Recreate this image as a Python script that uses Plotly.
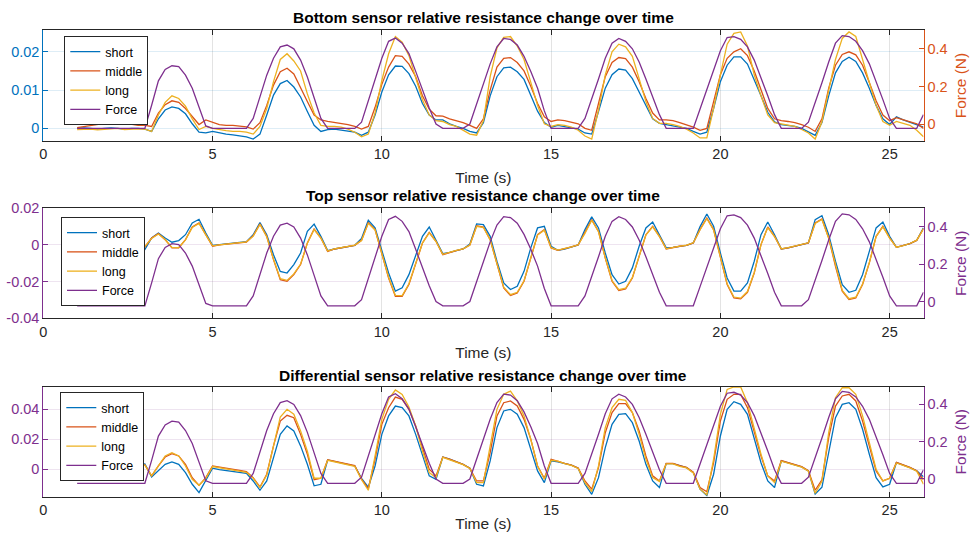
import plotly.graph_objects as go

# ---------------- data ----------------
TIME = [1.0, 1.2, 1.4, 1.6, 1.8, 2.0, 2.2, 2.4, 2.6, 2.8,
        3.0, 3.2, 3.4, 3.6, 3.8, 4.0, 4.2, 4.4, 4.6, 4.8,
        5.0, 5.2, 5.4, 5.6, 5.8, 6.0, 6.2, 6.4, 6.6, 6.8,
        7.0, 7.2, 7.4, 7.6, 7.8, 8.0, 8.2, 8.4, 8.6, 8.8,
        9.0, 9.2, 9.4, 9.6, 9.8, 10.0, 10.2, 10.4, 10.6, 10.8,
        11.0, 11.2, 11.4, 11.6, 11.8, 12.0, 12.2, 12.4, 12.6, 12.8,
        13.0, 13.2, 13.4, 13.6, 13.8, 14.0, 14.2, 14.4, 14.6, 14.8,
        15.0, 15.2, 15.4, 15.6, 15.8, 16.0, 16.2, 16.4, 16.6, 16.8,
        17.0, 17.2, 17.4, 17.6, 17.8, 18.0, 18.2, 18.4, 18.6, 18.8,
        19.0, 19.2, 19.4, 19.6, 19.8, 20.0, 20.2, 20.4, 20.6, 20.8,
        21.0, 21.2, 21.4, 21.6, 21.8, 22.0, 22.2, 22.4, 22.6, 22.8,
        23.0, 23.2, 23.4, 23.6, 23.8, 24.0, 24.2, 24.4, 24.6, 24.8,
        25.0, 25.2, 25.4, 25.6, 25.8, 26.0]

FORCE = [-0.023, -0.023, -0.023, -0.023, -0.023, -0.023, -0.023, -0.023, -0.023, -0.023,
         -0.023, 0.10, 0.23, 0.29, 0.31, 0.305, 0.26, 0.19, 0.09, -0.01,
         -0.023, -0.023, -0.023, -0.023, -0.023, -0.023, 0.03, 0.15, 0.26, 0.35,
         0.41, 0.42, 0.40, 0.34, 0.25, 0.14, 0.03, -0.023, -0.023, -0.023,
         -0.023, -0.023, 0.01, 0.12, 0.235, 0.35, 0.44, 0.457, 0.43, 0.375,
         0.28, 0.18, 0.085, 0.0, -0.023, -0.023, -0.023, -0.023, 0.0, 0.11,
         0.21, 0.32, 0.41, 0.455, 0.45, 0.42, 0.36, 0.28, 0.19, 0.07,
         -0.023, -0.023, -0.023, -0.023, -0.023, 0.03, 0.13, 0.24, 0.35, 0.43,
         0.455, 0.44, 0.40, 0.33, 0.24, 0.14, 0.05, -0.023, -0.023, -0.023,
         -0.023, -0.023, 0.08, 0.18, 0.29, 0.39, 0.46, 0.465, 0.45, 0.41,
         0.34, 0.25, 0.15, 0.05, -0.023, -0.023, -0.023, -0.023, 0.01, 0.11,
         0.22, 0.33, 0.43, 0.47, 0.465, 0.44, 0.39, 0.32, 0.23, 0.13,
         0.03, -0.023, -0.023, -0.023, -0.023, 0.05]

# Bottom sensor
B_SHORT = [0.0000, 0.0001, 0.0000, -0.0002, 0.0000, 0.0001, 0.0000, -0.0002, 0.0000, 0.0000,
           -0.0002, -0.0008, 0.0025, 0.0048, 0.0056, 0.0052, 0.0038, 0.0012, -0.0010, -0.0012,
           -0.0008, -0.0012, -0.0015, -0.0017, -0.0020, -0.0022, -0.0028, -0.0015, 0.0035, 0.0087,
           0.0117, 0.0125, 0.0108, 0.0082, 0.0044, 0.0008, -0.0008, -0.0003, -0.0002, -0.0005,
           -0.0007, -0.0010, -0.0018, -0.0010, 0.0035, 0.0095, 0.0140, 0.0163, 0.0162, 0.0143,
           0.0110, 0.0065, 0.0035, 0.0022, 0.0022, 0.0012, 0.0005, 0.0000, -0.0008, -0.0012,
           0.0015, 0.0085, 0.0135, 0.0158, 0.0160, 0.0148, 0.0128, 0.0085, 0.0045, 0.0015,
           0.0003, 0.0008, 0.0005, 0.0002, -0.0002, -0.0012, -0.0015, 0.0044, 0.0105, 0.0140,
           0.0155, 0.0152, 0.0130, 0.0095, 0.0060, 0.0025, 0.0013, 0.0010, 0.0008, 0.0005,
           0.0000, -0.0008, -0.0015, -0.0010, 0.0052, 0.0122, 0.0165, 0.0187, 0.0187, 0.0168,
           0.0128, 0.0085, 0.0042, 0.0017, 0.0010, 0.0008, 0.0005, 0.0000, -0.0008, -0.0018,
           0.0015, 0.0085, 0.0145, 0.0175, 0.0186, 0.0175, 0.0145, 0.0105, 0.0060, 0.0025,
           0.0010, 0.0030, 0.0022, 0.0015, 0.0010, 0.0003]
B_MIDDLE = [0.0002, 0.0005, 0.0008, 0.0010, 0.0012, 0.0015, 0.0018, 0.0014, 0.0010, 0.0008,
            0.0008, 0.0005, 0.0040, 0.0062, 0.0072, 0.0068, 0.0052, 0.0030, 0.0010, 0.0022,
            0.0015, 0.0010, 0.0008, 0.0008, 0.0006, 0.0004, -0.0002, 0.0015, 0.0060, 0.0113,
            0.0148, 0.0157, 0.0142, 0.0108, 0.0070, 0.0035, 0.0022, 0.0018, 0.0015, 0.0012,
            0.0010, 0.0005, -0.0002, 0.0005, 0.0055, 0.0115, 0.0160, 0.0190, 0.0188, 0.0168,
            0.0135, 0.0085, 0.0050, 0.0033, 0.0032, 0.0025, 0.0020, 0.0015, 0.0008, 0.0000,
            0.0025, 0.0100, 0.0160, 0.0183, 0.0185, 0.0172, 0.0150, 0.0110, 0.0065, 0.0030,
            0.0018, 0.0022, 0.0020, 0.0015, 0.0012, 0.0000, -0.0005, 0.0065, 0.0135, 0.0172,
            0.0185, 0.0182, 0.0160, 0.0122, 0.0078, 0.0040, 0.0022, 0.0022, 0.0020, 0.0015,
            0.0010, 0.0003, -0.0005, 0.0000, 0.0070, 0.0140, 0.0183, 0.0200, 0.0208, 0.0190,
            0.0150, 0.0098, 0.0052, 0.0025, 0.0020, 0.0018, 0.0015, 0.0010, 0.0003, -0.0008,
            0.0025, 0.0105, 0.0165, 0.0193, 0.0200, 0.0192, 0.0165, 0.0120, 0.0072, 0.0035,
            0.0020, 0.0028, 0.0022, 0.0018, 0.0012, 0.0000]
B_LONG = [-0.0003, -0.0003, -0.0002, -0.0004, -0.0003, -0.0002, 0.0000, -0.0003, -0.0002, -0.0001,
          -0.0002, -0.0008, 0.0035, 0.0068, 0.0085, 0.0078, 0.0058, 0.0025, -0.0003, 0.0005,
          0.0000, -0.0004, -0.0006, -0.0008, -0.0008, -0.0010, -0.0015, 0.0005, 0.0052, 0.0122,
          0.0180, 0.0195, 0.0176, 0.0150, 0.0090, 0.0040, 0.0008, 0.0005, 0.0005, 0.0003,
          -0.0002, -0.0010, -0.0022, -0.0015, 0.0040, 0.0125, 0.0195, 0.0240, 0.0225, 0.0190,
          0.0130, 0.0075, 0.0035, 0.0020, 0.0018, 0.0010, 0.0005, -0.0005, -0.0015, -0.0018,
          0.0020, 0.0135, 0.0210, 0.0238, 0.0240, 0.0215, 0.0180, 0.0120, 0.0060, 0.0012,
          0.0005, 0.0010, 0.0008, 0.0003, -0.0005, -0.0020, -0.0028, 0.0048, 0.0140, 0.0200,
          0.0220, 0.0213, 0.0188, 0.0130, 0.0070, 0.0026, 0.0013, 0.0013, 0.0010, 0.0005,
          -0.0002, -0.0012, -0.0025, -0.0025, 0.0052, 0.0140, 0.0220, 0.0248, 0.0252, 0.0215,
          0.0140, 0.0085, 0.0035, 0.0015, 0.0012, 0.0008, 0.0005, -0.0003, -0.0012, -0.0028,
          0.0017, 0.0100, 0.0180, 0.0235, 0.0252, 0.0240, 0.0180, 0.0120, 0.0060, 0.0018,
          0.0008, 0.0018, 0.0012, 0.0008, -0.0005, -0.0022]

# Top sensor
T_SHORT = [-0.0020, -0.0020, -0.0022, -0.0022, -0.0023, -0.0023, -0.0024, -0.0025, -0.0025, -0.0025,
           -0.0025, 0.0038, 0.0065, 0.0038, 0.0015, 0.0024, 0.0056, 0.0120, 0.0140, 0.0065,
           -0.0002, 0.0002, 0.0006, 0.0010, 0.0014, 0.0018, 0.0056, 0.0122, 0.0056, -0.0053,
           -0.0144, -0.0153, -0.0107, -0.0044, 0.0074, 0.0114, 0.0047, -0.0031, -0.0022, -0.0016,
           -0.0007, -0.0002, 0.0035, 0.0135, 0.0093, -0.0035, -0.0153, -0.0252, -0.0234, -0.0162,
           -0.0062, 0.0047, 0.0098, 0.0029, -0.0047, -0.0040, -0.0031, -0.0022, 0.0005, 0.0115,
           0.0111, 0.0047, -0.0089, -0.0207, -0.0243, -0.0225, -0.0144, -0.0016, 0.0093, 0.0102,
           -0.0007, -0.0029, -0.0022, -0.0011, 0.0000, 0.0084, 0.0153, 0.0093, -0.0044, -0.0162,
           -0.0213, -0.0198, -0.0125, -0.0007, 0.0093, 0.0125, 0.0056, -0.0016, -0.0013, -0.0007,
           -0.0002, 0.0011, 0.0100, 0.0169, 0.0102, -0.0044, -0.0180, -0.0252, -0.0252, -0.0207,
           -0.0089, 0.0056, 0.0125, 0.0056, -0.0022, -0.0016, -0.0007, -0.0002, 0.0011, 0.0138,
           0.0160, 0.0056, -0.0089, -0.0216, -0.0258, -0.0247, -0.0162, -0.0035, 0.0093, 0.0125,
           0.0047, -0.0013, -0.0004, 0.0007, 0.0025, 0.0093]
T_MIDDLE = [-0.0008, -0.0008, -0.0009, -0.0009, -0.0010, -0.0010, -0.0010, -0.0011, -0.0011, -0.0011,
            -0.0011, 0.0038, 0.0062, 0.0029, -0.0016, -0.0016, 0.0029, 0.0098, 0.0120, 0.0056,
            -0.0007, 0.0000, 0.0004, 0.0008, 0.0012, 0.0016, 0.0050, 0.0115, 0.0047, -0.0080,
            -0.0189, -0.0198, -0.0162, -0.0107, 0.0011, 0.0087, 0.0038, -0.0035, -0.0022, -0.0016,
            -0.0007, -0.0002, 0.0025, 0.0122, 0.0084, -0.0053, -0.0180, -0.0280, -0.0280, -0.0216,
            -0.0107, 0.0011, 0.0069, 0.0020, -0.0053, -0.0040, -0.0031, -0.0022, 0.0000, 0.0105,
            0.0098, 0.0029, -0.0107, -0.0234, -0.0276, -0.0262, -0.0198, -0.0071, 0.0056, 0.0084,
            -0.0016, -0.0029, -0.0022, -0.0011, 0.0000, 0.0065, 0.0138, 0.0074, -0.0071, -0.0198,
            -0.0249, -0.0240, -0.0180, -0.0062, 0.0056, 0.0102, 0.0047, -0.0022, -0.0013, -0.0007,
            -0.0002, 0.0011, 0.0085, 0.0147, 0.0084, -0.0071, -0.0216, -0.0289, -0.0294, -0.0258,
            -0.0153, 0.0002, 0.0098, 0.0047, -0.0022, -0.0016, -0.0007, -0.0002, 0.0011, 0.0120,
            0.0142, 0.0038, -0.0116, -0.0252, -0.0298, -0.0289, -0.0216, -0.0098, 0.0047, 0.0102,
            0.0038, -0.0013, -0.0004, 0.0007, 0.0025, 0.0090]
T_LONG = [-0.0006, -0.0006, -0.0007, -0.0007, -0.0008, -0.0008, -0.0008, -0.0009, -0.0009, -0.0009,
          -0.0009, 0.0036, 0.0060, 0.0030, -0.0013, -0.0014, 0.0028, 0.0095, 0.0118, 0.0055,
          -0.0005, 0.0001, 0.0005, 0.0009, 0.0013, 0.0017, 0.0048, 0.0112, 0.0045, -0.0078,
          -0.0184, -0.0193, -0.0158, -0.0104, 0.0010, 0.0084, 0.0037, -0.0033, -0.0021, -0.0015,
          -0.0006, -0.0001, 0.0024, 0.0118, 0.0082, -0.0052, -0.0176, -0.0275, -0.0276, -0.0212,
          -0.0104, 0.0010, 0.0066, 0.0019, -0.0051, -0.0039, -0.0030, -0.0021, 0.0000, 0.0102,
          0.0095, 0.0028, -0.0105, -0.0230, -0.0271, -0.0258, -0.0195, -0.0069, 0.0054, 0.0081,
          -0.0015, -0.0028, -0.0021, -0.0010, 0.0001, 0.0063, 0.0135, 0.0072, -0.0070, -0.0194,
          -0.0244, -0.0236, -0.0177, -0.0061, 0.0054, 0.0099, 0.0046, -0.0021, -0.0012, -0.0006,
          -0.0001, 0.0012, 0.0083, 0.0143, 0.0082, -0.0070, -0.0212, -0.0284, -0.0290, -0.0254,
          -0.0150, 0.0002, 0.0095, 0.0046, -0.0021, -0.0015, -0.0006, -0.0001, 0.0012, 0.0117,
          0.0139, 0.0037, -0.0114, -0.0248, -0.0293, -0.0285, -0.0213, -0.0096, 0.0046, 0.0099,
          0.0037, -0.0012, -0.0003, 0.0008, 0.0026, 0.0088]

# Differential sensor
D_SHORT = [0.0005, 0.0010, 0.0012, 0.0015, 0.0017, 0.0020, 0.0022, 0.0025, 0.0028, 0.0032,
           0.0035, -0.0051, -0.0011, 0.0033, 0.0049, 0.0033, -0.0022, -0.0100, -0.0156, -0.0078,
           0.0007, -0.0002, -0.0007, -0.0013, -0.0020, -0.0027, -0.0078, -0.0140, -0.0078, 0.0078,
           0.0233, 0.0289, 0.0256, 0.0156, 0.0033, -0.0110, -0.0100, 0.0062, 0.0052, 0.0042,
           0.0032, 0.0022, -0.0060, -0.0120, 0.0022, 0.0233, 0.0356, 0.0422, 0.0411, 0.0356,
           0.0233, 0.0089, -0.0044, -0.0067, 0.0082, 0.0067, 0.0051, 0.0033, 0.0007, -0.0100,
           -0.0111, 0.0056, 0.0278, 0.0389, 0.0400, 0.0367, 0.0278, 0.0133, -0.0011, -0.0089,
           0.0056, 0.0049, 0.0038, 0.0027, 0.0007, -0.0100, -0.0167, -0.0056, 0.0144, 0.0300,
           0.0367, 0.0371, 0.0311, 0.0189, 0.0033, -0.0078, -0.0122, 0.0038, 0.0038, 0.0022,
           0.0011, -0.0022, -0.0133, -0.0175, -0.0033, 0.0222, 0.0400, 0.0451, 0.0433, 0.0367,
           0.0211, 0.0044, -0.0078, -0.0122, 0.0056, 0.0044, 0.0029, 0.0016, -0.0011, -0.0165,
           -0.0120, 0.0111, 0.0344, 0.0433, 0.0444, 0.0400, 0.0267, 0.0100, -0.0056, -0.0118,
           -0.0100, 0.0044, 0.0029, 0.0011, -0.0011, -0.0050]
D_MIDDLE = [0.0005, 0.0010, 0.0013, 0.0016, 0.0019, 0.0022, 0.0025, 0.0027, 0.0028, 0.0030,
            0.0030, -0.0044, 0.0022, 0.0082, 0.0104, 0.0089, 0.0033, -0.0056, -0.0107, -0.0056,
            0.0022, 0.0016, 0.0007, 0.0000, -0.0007, -0.0016, -0.0056, -0.0118, -0.0033, 0.0156,
            0.0322, 0.0360, 0.0344, 0.0233, 0.0100, -0.0070, -0.0060, 0.0064, 0.0054, 0.0044,
            0.0034, 0.0024, -0.0065, -0.0130, 0.0067, 0.0300, 0.0411, 0.0482, 0.0467, 0.0400,
            0.0289, 0.0144, 0.0000, -0.0044, 0.0082, 0.0067, 0.0051, 0.0033, 0.0007, -0.0078,
            -0.0078, 0.0111, 0.0356, 0.0444, 0.0456, 0.0422, 0.0333, 0.0200, 0.0022, -0.0060,
            0.0067, 0.0056, 0.0040, 0.0028, 0.0008, -0.0078, -0.0133, 0.0011, 0.0244, 0.0378,
            0.0438, 0.0438, 0.0378, 0.0256, 0.0089, -0.0044, -0.0078, 0.0040, 0.0040, 0.0024,
            0.0013, -0.0020, -0.0122, -0.0150, 0.0044, 0.0322, 0.0467, 0.0500, 0.0500, 0.0411,
            0.0256, 0.0089, -0.0044, -0.0078, 0.0058, 0.0046, 0.0031, 0.0018, -0.0009, -0.0140,
            -0.0070, 0.0211, 0.0422, 0.0489, 0.0500, 0.0456, 0.0322, 0.0156, -0.0011, -0.0078,
            -0.0060, 0.0046, 0.0031, 0.0013, -0.0010, -0.0070]
D_LONG = [0.0003, 0.0008, 0.0011, 0.0014, 0.0016, 0.0019, 0.0021, 0.0023, 0.0025, 0.0027,
          0.0028, -0.0044, 0.0022, 0.0089, 0.0111, 0.0089, 0.0022, -0.0067, -0.0107, -0.0060,
          0.0018, 0.0011, 0.0002, -0.0004, -0.0011, -0.0020, -0.0060, -0.0122, -0.0038, 0.0167,
          0.0349, 0.0400, 0.0367, 0.0256, 0.0120, -0.0060, -0.0060, 0.0060, 0.0050, 0.0040,
          0.0030, 0.0020, -0.0070, -0.0140, 0.0089, 0.0333, 0.0467, 0.0529, 0.0500, 0.0416,
          0.0289, 0.0122, -0.0022, -0.0056, 0.0080, 0.0065, 0.0049, 0.0031, 0.0005, -0.0089,
          -0.0089, 0.0144, 0.0400, 0.0500, 0.0522, 0.0456, 0.0356, 0.0200, 0.0022, -0.0067,
          0.0060, 0.0054, 0.0037, 0.0026, 0.0006, -0.0089, -0.0149, 0.0022, 0.0278, 0.0411,
          0.0467, 0.0460, 0.0378, 0.0233, 0.0067, -0.0056, -0.0082, 0.0036, 0.0036, 0.0020,
          0.0009, -0.0024, -0.0133, -0.0170, 0.0067, 0.0367, 0.0533, 0.0549, 0.0549, 0.0444,
          0.0278, 0.0100, -0.0044, -0.0089, 0.0054, 0.0042, 0.0027, 0.0014, -0.0013, -0.0160,
          -0.0080, 0.0244, 0.0478, 0.0544, 0.0544, 0.0500, 0.0356, 0.0178, 0.0000, -0.0078,
          -0.0060, 0.0042, 0.0027, 0.0009, -0.0013, -0.0100]

SERIES_NAMES = ["short", "middle", "long", "Force"]
TITLES = ["Bottom sensor relative resistance change over time",
          "Top sensor relative resistance change over time",
          "Differential sensor relative resistance change over time"]
X_TICKS = [0, 5, 10, 15, 20, 25]
LEFT_TICKS = [[0, 0.01, 0.02], [-0.04, -0.02, 0, 0.02], [0, 0.02, 0.04]]
LEFT_TICKTEXT = [["0", "0.01", "0.02"], ["-0.04", "-0.02", "0", "0.02"], ["0", "0.02", "0.04"]]
RIGHT_TICKS = [0, 0.2, 0.4]
RIGHT_TICKTEXT = ["0", "0.2", "0.4"]

# ---------------- style ----------------
BLUE = "#0072BD"
ORANGE = "#D95319"
YELLOW = "#EDB120"
PURPLE = "#7E2F8E"
DARK = "#262626"
FONT = "Liberation Sans, Arial, Helvetica, sans-serif"
W, H = 970, 540

X0, X1 = 43.3, 923.5
PANEL_PX = [(30.0, 141.0), (208.3, 318.3), (386.7, 496.7)]
LEFT_RANGES = [[-0.0033, 0.0257], [-0.04, 0.02], [-0.0183, 0.0551]]
RIGHT_RANGES = [[-0.09, 0.5], [-0.09, 0.5], [-0.095, 0.495]]
LEFT_COLORS = [BLUE, PURPLE, PURPLE]
RIGHT_COLORS = [ORANGE, PURPLE, PURPLE]
GRID_Y = ["rgba(0,114,189,0.13)", "rgba(126,47,142,0.13)", "rgba(126,47,142,0.13)"]
GRID_X = "rgba(38,38,38,0.13)"
TITLE_Y_PX = [18, 195, 375]
XTITLE_STANDOFF = [10, 8, 1]
LEGEND_PX = [(64.3, 36.0), (61.0, 217.0), (60.3, 392.0)]

panels = [(B_SHORT, B_MIDDLE, B_LONG), (T_SHORT, T_MIDDLE, T_LONG), (D_SHORT, D_MIDDLE, D_LONG)]
line_colors = [BLUE, ORANGE, YELLOW]

fig = go.Figure()
layout = dict(width=W, height=H, margin=dict(l=0, r=0, t=0, b=0, autoexpand=False),
              paper_bgcolor="white", plot_bgcolor="white",
              font=dict(family=FONT, color=DARK, size=14.5),
              showlegend=True, annotations=[])

for i, series in enumerate(panels):
    xname = "x" if i == 0 else f"x{i+1}"
    yl = 2 * i + 1
    yr = 2 * i + 2
    ylname = "y" if yl == 1 else f"y{yl}"
    yrname = f"y{yr}"
    legname = "legend" if i == 0 else f"legend{i+1}"
    for name, vals, col in zip(SERIES_NAMES[:3], series, line_colors):
        fig.add_trace(go.Scatter(x=TIME, y=vals, name=name, mode="lines",
                                 line=dict(color=col, width=1.3),
                                 xaxis=xname, yaxis=ylname, legend=legname))
    fig.add_trace(go.Scatter(x=TIME, y=FORCE, name=SERIES_NAMES[3], mode="lines",
                             line=dict(color=PURPLE, width=1.3),
                             xaxis=xname, yaxis=yrname, legend=legname))

    top_px, bot_px = PANEL_PX[i]
    ydom = [1 - bot_px / H, 1 - top_px / H]
    xdom = [X0 / W, X1 / W]
    xkey = "xaxis" if i == 0 else f"xaxis{i+1}"
    ylkey = "yaxis" if yl == 1 else f"yaxis{yl}"
    yrkey = f"yaxis{yr}"

    layout[xkey] = dict(domain=xdom, anchor=ylname, range=[0, 26], automargin=False,
                        tickmode="array", tickvals=X_TICKS, ticktext=[str(v) for v in X_TICKS],
                        ticks="inside", ticklen=5, tickcolor=DARK, tickwidth=1,
                        showline=True, linecolor=DARK, linewidth=1, mirror="ticks",
                        showgrid=True, gridcolor=GRID_X, gridwidth=1, zeroline=False,
                        tickfont=dict(size=14.5, color=DARK, family=FONT),
                        title=dict(text="Time (s)", font=dict(size=15.5, color=DARK, family=FONT),
                                   standoff=XTITLE_STANDOFF[i]))
    lc = LEFT_COLORS[i]
    layout[ylkey] = dict(domain=ydom, anchor=xname, range=LEFT_RANGES[i], automargin=False,
                         tickmode="array", tickvals=LEFT_TICKS[i], ticktext=LEFT_TICKTEXT[i],
                         ticks="inside", ticklen=5, tickcolor=lc, tickwidth=1,
                         showline=True, linecolor=lc, linewidth=1,
                         showgrid=True, gridcolor=GRID_Y[i], gridwidth=1, zeroline=False,
                         tickfont=dict(size=14.5, color=lc, family=FONT))
    rc = RIGHT_COLORS[i]
    layout[yrkey] = dict(overlaying=ylname, side="right", anchor=xname, range=RIGHT_RANGES[i],
                         automargin=False,
                         tickmode="array", tickvals=RIGHT_TICKS, ticktext=RIGHT_TICKTEXT,
                         ticks="inside", ticklen=5, tickcolor=rc, tickwidth=1,
                         showline=True, linecolor=rc, linewidth=1,
                         showgrid=False, zeroline=False,
                         tickfont=dict(size=14.5, color=rc, family=FONT),
                         title=dict(text="Force (N)", font=dict(size=15.5, color=rc, family=FONT),
                                    standoff=8))
    lx, ly = LEGEND_PX[i]
    layout[legname] = dict(x=lx / W, y=1 - ly / H, xanchor="left", yanchor="top",
                           bgcolor="white", bordercolor=DARK, borderwidth=1,
                           font=dict(size=12.5, color="black", family=FONT),
                           tracegroupgap=0, itemwidth=30)
    layout["annotations"].append(dict(text=f"<b>{TITLES[i]}</b>", xref="paper", yref="paper",
                                      x=(X0 + X1) / 2 / W, y=1 - TITLE_Y_PX[i] / H,
                                      xanchor="center", yanchor="middle", showarrow=False,
                                      font=dict(size=15.5, color="black", family=FONT)))

fig.update_layout(**layout)
fig.write_html("out.html")
